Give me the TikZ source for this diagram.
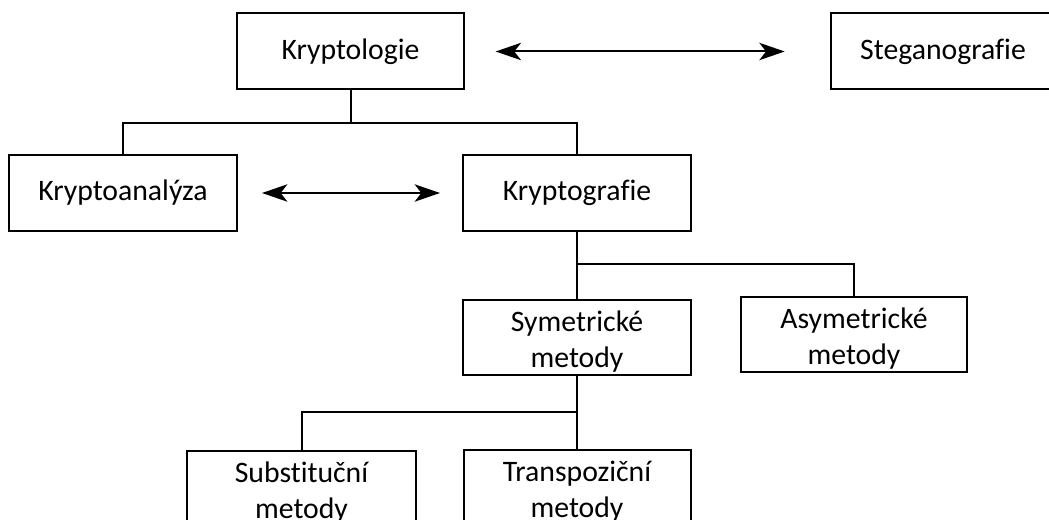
\documentclass[tikz,border=0pt]{standalone}
\usepackage{fontspec}
\setmainfont{Carlito}[Ligatures=NoCommon]
\usetikzlibrary{arrows.meta}
\begin{document}
\begin{tikzpicture}[x=0.75pt,y=-0.75pt,
  boxfont/.style={font=\fontsize{22.3}{27}\selectfont},
  box/.style={draw,line width=1.5pt,minimum height=57pt,inner sep=0pt,align=center,boxfont},
  lbl/.style={boxfont,align=center,inner sep=0pt,yshift=#1},
  conn/.style={line width=1.5pt},
  biarrow/.style={line width=1.5pt,
    {Stealth[length=19pt,width=13pt,inset=5pt]}-{Stealth[length=19pt,width=13pt,inset=5pt]}}]
\useasboundingbox (0,0) rectangle (1049,520);
\clip (0,0) rectangle (1049,520);
\fill[white] (0,0) rectangle (1049,520);
% boxes
\node[box,minimum width=170.25pt] (klog) at (350.5,51.5) {Kryptologie};
\node[box,minimum width=168pt] (steg) at (943,51.5) {Steganografie};
\node[box,minimum width=171pt] (kana) at (123,193) {Kryptoanalýza};
\node[box,minimum width=171pt] (kgraf) at (577,193) {Kryptografie};
\node[box,minimum width=171pt,minimum height=56.25pt,
  label={[lbl=-2.7pt]center:Symetrické\\metody}] (sym) at (577,337.5) {};
\node[box,minimum width=169.5pt,minimum height=56.25pt,
  label={[lbl=-2.7pt]center:Asymetrické\\metody}] (asym) at (854,334.5) {};
\node[box,minimum width=171.75pt,minimum height=56.25pt,anchor=north,
  label={[lbl=-3.75pt]center:Substituční\\metody}] (subst) at (301.5,449.5) {};
\node[box,minimum width=170.25pt,minimum height=56.25pt,anchor=north,
  label={[lbl=-3.75pt]center:Transpoziční\\metody}] (transp) at (577,448.5) {};
% junctions
\coordinate (h1) at (350.5,123);
\coordinate (h2) at (577,264);
\coordinate (h3) at (577,412);
% connectors
\draw[conn] (klog.south) -- (h1);
\draw[conn] (kana.north) |- (h1) -| (kgraf.north);
\draw[conn] (kgraf.south) -- (sym.north);
\draw[conn] (h2) -| (asym.north);
\draw[conn] (sym.south) -- (transp.north);
\draw[conn] (h3) -| (subst.north);
% arrows
\draw[biarrow,shorten <=23pt,shorten >=34pt] (klog.east) -- (steg.west);
\draw[biarrow,shorten <=18pt,shorten >=16.5pt] (kana.east) -- (kgraf.west);
\end{tikzpicture}
\end{document}
